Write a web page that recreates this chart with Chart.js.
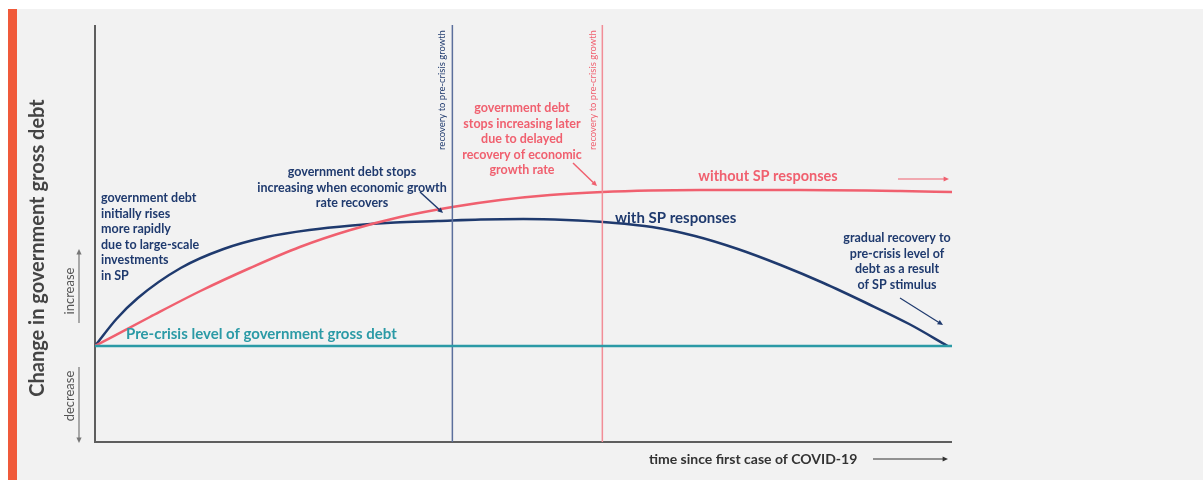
<!DOCTYPE html>
<html>
<head>
<meta charset="utf-8">
<script src="https://cdn.jsdelivr.net/npm/chart.js@4.4.1/dist/chart.umd.min.js"></script>
<style>
  body { margin: 0; background: #ffffff; }
  #panel { position: absolute; left: 8px; top: 9px; width: 1195px; height: 471px; background: #f2f2f2; }
  #bar { position: absolute; left: 8px; top: 9px; width: 9px; height: 471px; background: #f05a3a; }
  canvas { position: absolute; left: 0; top: 0; }
</style>
</head>
<body>
<div id="panel"></div>
<div id="bar"></div>
<canvas id="debtChart" width="1203" height="480"></canvas>
<script>
// time since first case (0-100) and change in debt (0 = pre-crisis level)
const blueTime = [0, 2.5, 5, 10, 15, 20, 25, 30, 35, 40, 45, 50, 55, 60, 65, 70, 75, 80, 85, 90, 95, 99.5];
const blueDebt = [0, 27, 48, 78, 97, 109, 116, 120.5, 123.5, 125, 126.5, 127, 126, 123.5, 119, 110, 97, 81, 63, 43, 22, 0];

const redTime = [0, 6.4, 12.3, 18.1, 23.9, 29.8, 35.6, 41.7, 47.3, 53.1, 59.2, 64.8, 70.6, 82.3, 94, 100];
const redDebt = [0, 29, 55, 78, 99, 116, 129, 139, 146, 151, 154, 155.5, 156, 156, 155, 154];

const baseTime = [0, 100];
const baseDebt = [0, 0];

const blueRecovery = 41.7;
const redRecovery = 59.2;

const yMin = -96;
const yMax = 321;

const NAVY = "#1f3a6e";
const RED = "#f0606f";
const TEAL = "#2b9aa6";
const GREY = "#555555";
const FONT = "Lato, 'Open Sans', sans-serif";

const toPoints = (xs, ys) => xs.map((x, i) => ({ x: x, y: ys[i] }));

function arrow(ctx, x1, y1, x2, y2, color, width) {
  const ang = Math.atan2(y2 - y1, x2 - x1);
  const head = 6;
  ctx.save();
  ctx.strokeStyle = color;
  ctx.fillStyle = color;
  ctx.lineWidth = width;
  ctx.beginPath();
  ctx.moveTo(x1, y1);
  ctx.lineTo(x2 - Math.cos(ang) * head * 0.8, y2 - Math.sin(ang) * head * 0.8);
  ctx.stroke();
  ctx.beginPath();
  ctx.moveTo(x2, y2);
  ctx.lineTo(x2 - head * Math.cos(ang - 0.45), y2 - head * Math.sin(ang - 0.45));
  ctx.lineTo(x2 - head * Math.cos(ang + 0.45), y2 - head * Math.sin(ang + 0.45));
  ctx.closePath();
  ctx.fill();
  ctx.restore();
}

function textLines(ctx, lines, x, y, lh, color, font, align) {
  ctx.save();
  ctx.fillStyle = color;
  ctx.font = font;
  ctx.textAlign = align;
  ctx.textBaseline = "middle";
  lines.forEach((line, i) => ctx.fillText(line, x, y + i * lh));
  ctx.restore();
}

function rotated(ctx, text, x, y, color, font) {
  ctx.save();
  ctx.translate(x, y);
  ctx.rotate(-Math.PI / 2);
  ctx.fillStyle = color;
  ctx.font = font;
  ctx.textAlign = "center";
  ctx.textBaseline = "middle";
  ctx.fillText(text, 0, 0);
  ctx.restore();
}

const axesPlugin = {
  id: "axes",
  beforeDatasetsDraw(chart) {
    const { ctx, chartArea } = chart;
    ctx.save();
    ctx.strokeStyle = "#5e5e5e";
    ctx.lineWidth = 2;
    ctx.beginPath();
    ctx.moveTo(chartArea.left, chartArea.top);
    ctx.lineTo(chartArea.left, chartArea.bottom);
    ctx.lineTo(chartArea.right, chartArea.bottom);
    ctx.stroke();
    ctx.restore();
  },
  afterDraw(chart) {
    const { ctx } = chart;
    const x = chart.scales.x;
    const y = chart.scales.y;

    // axis titles
    rotated(ctx, "Change in government gross debt", 38, 248, "#444444", "bold 20px " + FONT);
    rotated(ctx, "increase", 70, 291, GREY, "13px " + FONT);
    rotated(ctx, "decrease", 70, 396, GREY, "13px " + FONT);
    arrow(ctx, 79, 323, 79, 249, "#777777", 1.2);
    arrow(ctx, 79, 367, 79, 443, "#777777", 1.2);

    textLines(ctx, ["time since first case of COVID-19"], 649, 459, 0, "#333333", "bold 14px " + FONT, "left");
    arrow(ctx, 873, 459, 948, 459, "#333333", 1);

    // recovery labels beside the vertical lines
    rotated(ctx, "recovery to pre-crisis growth", x.getPixelForValue(blueRecovery) - 10, 90, NAVY, "9.5px " + FONT);
    rotated(ctx, "recovery to pre-crisis growth", x.getPixelForValue(redRecovery) - 9, 90, RED, "9.5px " + FONT);

    // series labels
    textLines(ctx, ["Pre-crisis level of government gross debt"], 126, y.getPixelForValue(0) - 12, 0, TEAL, "bold 15px " + FONT, "left");
    textLines(ctx, ["without SP responses"], 768, 176, 0, RED, "bold 14.5px " + FONT, "center");
    arrow(ctx, 898, 179, 949, 179, RED, 1.2);
    textLines(ctx, ["with SP responses"], 615, 218, 0, NAVY, "bold 15px " + FONT, "left");

    // notes
    const note = "bold 12.5px " + FONT;
    textLines(ctx, ["government debt", "initially rises", "more rapidly", "due to large-scale", "investments", "in SP"],
      101, 198, 15.6, NAVY, note, "left");
    textLines(ctx, ["government debt stops", "increasing when economic growth", "rate recovers"],
      352, 172, 15.5, NAVY, note, "center");
    arrow(ctx, 420, 192, 443, 213, NAVY, 1.5);
    textLines(ctx, ["government debt", "stops increasing later", "due to delayed", "recovery of economic", "growth rate"],
      522, 108, 15.5, RED, note, "center");
    arrow(ctx, 573, 163, 597, 186, RED, 1.5);
    textLines(ctx, ["gradual recovery to", "pre-crisis level of", "debt as a result", "of SP stimulus"],
      897, 238, 15.7, NAVY, note, "center");
    arrow(ctx, 900, 298, 943, 325, NAVY, 1.2);
  },
};

new Chart(document.getElementById("debtChart"), {
  type: "line",
  data: {
    datasets: [
      {
        data: toPoints(baseTime, baseDebt),
        borderColor: TEAL,
        borderWidth: 2.5,
      },
      {
        data: toPoints([blueRecovery, blueRecovery], [yMin, yMax]),
        borderColor: "#5b6f9c",
        borderWidth: 1.5,
      },
      {
        data: toPoints([redRecovery, redRecovery], [yMin, yMax]),
        borderColor: "#f28d97",
        borderWidth: 1.5,
      },
      {
        data: toPoints(redTime, redDebt),
        borderColor: RED,
        borderWidth: 2.5,
        cubicInterpolationMode: "monotone",
      },
      {
        data: toPoints(blueTime, blueDebt),
        borderColor: NAVY,
        borderWidth: 2.5,
        cubicInterpolationMode: "monotone",
      },
    ],
  },
  options: {
    responsive: false,
    animation: false,
    devicePixelRatio: 1,
    layout: { padding: { left: 95, top: 25, right: 251, bottom: 38 } },
    elements: { point: { radius: 0 } },
    plugins: {
      legend: { display: false },
      tooltip: { enabled: false },
    },
    scales: {
      x: { type: "linear", min: 0, max: 100, display: false },
      y: { min: yMin, max: yMax, display: false },
    },
  },
  plugins: [axesPlugin],
});
</script>
</body>
</html>
